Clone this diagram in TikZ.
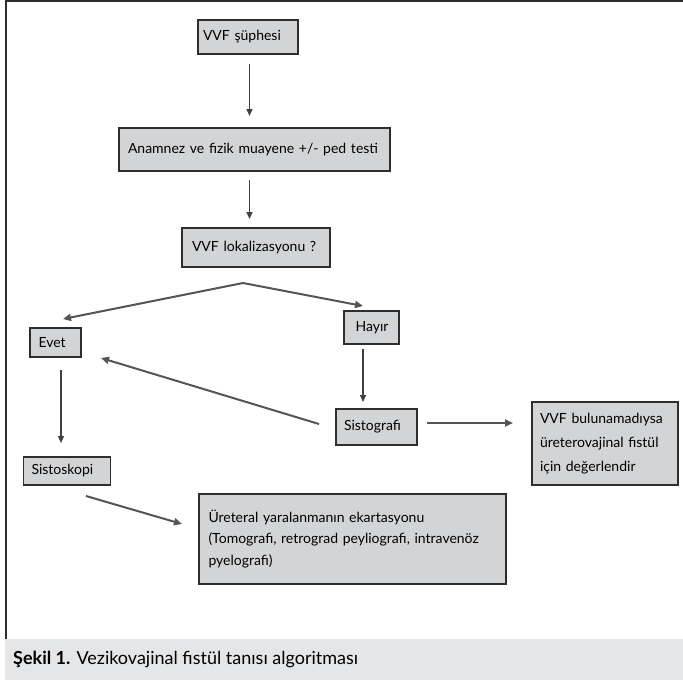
\documentclass[tikz,border=0pt]{standalone}
\usepackage{fontspec}
\setmainfont{Lato}
\usetikzlibrary{arrows.meta}
\definecolor{boxfill}{HTML}{D3D4D6}
\definecolor{capfill}{HTML}{E5E6E8}
\definecolor{edge}{HTML}{2E2E2E}
\definecolor{arr}{HTML}{404040}
\definecolor{arrsoft}{HTML}{555555}
\begin{document}
\begin{tikzpicture}[x=1pt,y=-1pt,
  box/.style={draw=edge, line width=1.2pt, fill=boxfill, anchor=north west, align=left,
    font=\fontsize{14}{16}\selectfont, inner ysep=0pt, outer sep=0pt},
  conn/.style={draw=arr, line width=1.4pt, -{Triangle[length=7pt,width=6pt]}},
  slant/.style={conn, draw=arrsoft, line width=2pt, -{Triangle[length=8pt,width=7pt]}}]
\useasboundingbox (0,0) rectangle (683,680);
% frame and caption band
\fill[capfill] (5,639) rectangle (683,680);
\draw[edge, line width=2pt] (5,1) -- (683,1);
\draw[edge, line width=1.8pt] (6,0) -- (6,639);
\node[anchor=west, font=\fontsize{18}{20}\selectfont, inner sep=0pt] (cap) at (13,659)
  {\textbf{Şekil 1.} Vezikovajinal fistül tanısı algoritması};
% boxes
\node[box, minimum width=100, minimum height=34, inner xsep=5, text width=90] (b1) at (198,20) {\mbox{VVF şüphesi}};
\node[box, minimum width=271, minimum height=43, inner xsep=9, text width=253] (b2) at (119,128) {\mbox{Anamnez ve fizik muayene +/- ped testi}};
\node[box, minimum width=148, minimum height=39, inner xsep=10, text width=128] (b3) at (182,228) {\mbox{VVF lokalizasyonu ?}};
\node[box, minimum width=51, minimum height=29, inner xsep=8.5, text width=34] (evet) at (30,328) {\mbox{Evet}};
\node[box, minimum width=55, minimum height=33, inner xsep=11.5, text width=32] (hayir) at (344,311) {\mbox{Hayır}};
\node[box, minimum width=81, minimum height=36, inner xsep=8, text width=65] (sistog) at (336,409) {\mbox{Sistografi}};
\node[box, minimum width=146, minimum height=83, inner xsep=8, text width=130, font=\fontsize{14}{24}\selectfont] (vvfb) at (532,402)
  {\mbox{VVF bulunamadıysa}\\\mbox{üreterovajinal fistül}\\\mbox{için değerlendir}};
\node[box, minimum width=87, minimum height=28, inner xsep=8, text width=71] (sistosk) at (23.5,457) {\mbox{Sistoskopi}};
\node[box, minimum width=307, minimum height=90, inner xsep=9.5, text width=288, font=\fontsize{14}{21.5}\selectfont] (uret) at (199,494)
  {\mbox{Üreteral yaralanmanın ekartasyonu}\\\mbox{(Tomografi, retrograd peyliografi, intravenöz}\\\mbox{pyelografi)}};
% connector ends
\coordinate (a1s) at (249.5,64);  \coordinate (a1e) at (249.5,116);
\coordinate (a2s) at (249.5,180); \coordinate (a2e) at (249.5,219);
\coordinate (apex) at (243,283);
\coordinate (toEvet) at (63,319); \coordinate (toHayir) at (363,306);
\coordinate (h1) at (363,349); \coordinate (h2) at (363,402);
\coordinate (e1) at (61,370); \coordinate (e2) at (61,443);
\coordinate (s1) at (319,424); \coordinate (s2) at (101,358);
\coordinate (r1) at (427,423); \coordinate (r2) at (513,423);
\coordinate (k1) at (86,496); \coordinate (k2) at (182,524);
% connectors
\draw[conn] (a1s) -- (a1e);
\draw[conn] (a2s) -- (a2e);
\draw[slant] (apex) -- (toEvet);
\draw[slant] (apex) -- (toHayir);
\draw[conn] (h1) -- (h2);
\draw[conn] (e1) -- (e2);
\draw[slant] (s1) -- (s2);
\draw[slant] (r1) -- (r2);
\draw[slant] (k1) -- (k2);
\end{tikzpicture}
\end{document}
